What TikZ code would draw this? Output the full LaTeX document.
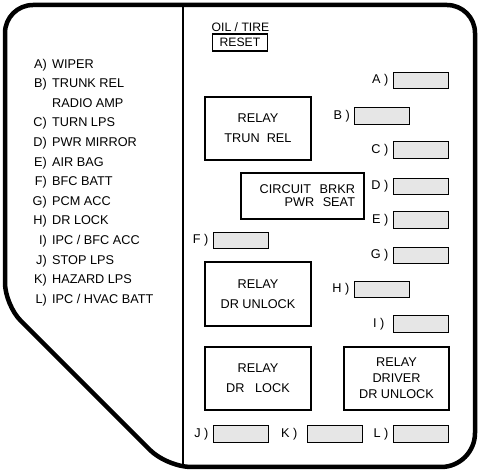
\documentclass[tikz,border=0pt]{standalone}
\usepackage{fontspec}
\setmainfont{Liberation Sans}
\usetikzlibrary{positioning}
\definecolor{fusefill}{RGB}{230,230,230}

\begin{document}
\begin{tikzpicture}[
  x=1pt, y=-1pt,
  font=\fontsize{12.7}{15}\selectfont,
  rim/.style={line width=4.5pt, line join=round},
  fuse/.style={draw, fill=fusefill, line width=0.8pt, minimum width=55pt,
               minimum height=16.5pt, inner sep=0pt},
  relay/.style={draw, line width=1.3pt, minimum width=106pt, minimum height=63pt,
                inner sep=0pt, align=center, font=\fontsize{12.7}{20}\selectfont},
  tag/.style={inner sep=0pt, text height=9pt, text depth=2.5pt},
  item/.style={tag, anchor=west},
  node distance=4pt,
]
\useasboundingbox (0,0) rectangle (480,473);

% housing outline and divider
\draw[rim] (5,200) [rounded corners=28pt] -- (5,5) -- (475,5) [rounded corners=34pt] -- (475,467)
  [rounded corners=24pt] -- (167,467) [rounded corners=22pt] -- (5,305) [sharp corners] -- cycle;
\coordinate (divtop) at (183,5);
\coordinate (divbot) at (183,467);
\draw[line width=1.2pt] (divtop) -- (divbot);

% legend
\node[item] (wiper) at (52,65) {WIPER};
\node[tag, left=5pt of wiper] (ta) {A)};
\node[item] (trunk) at (52,84.6) {TRUNK REL};
\node[tag, left=5pt of trunk] (tb) {B)};
\node[item] (radio) at (52,104.2) {RADIO AMP};
\node[item] (turn) at (52,123.7) {TURN LPS};
\node[tag, left=5pt of turn] (tc) {C)};
\node[item] (mirror) at (52,143.3) {PWR MIRROR};
\node[tag, left=5pt of mirror] (td) {D)};
\node[item] (airbag) at (52,162.9) {AIR BAG};
\node[tag, left=5pt of airbag] (te) {E)};
\node[item] (bfcbatt) at (52,182.5) {BFC BATT};
\node[tag, left=5pt of bfcbatt] (tf) {F)};
\node[item] (pcm) at (52,202.1) {PCM ACC};
\node[tag, left=5pt of pcm] (tg) {G)};
\node[item] (drlock) at (52,221.6) {DR LOCK};
\node[tag, left=5pt of drlock] (th) {H)};
\node[item] (bfcacc) at (52,241.2) {IPC / BFC ACC};
\node[tag, left=5pt of bfcacc] (ti) {I)};
\node[item] (stop) at (52,260.8) {STOP LPS};
\node[tag, left=5pt of stop] (tj) {J)};
\node[item] (hazard) at (52,280.4) {HAZARD LPS};
\node[tag, left=5pt of hazard] (tk) {K)};
\node[item] (hvac) at (52,300) {IPC / HVAC BATT};
\node[tag, left=5pt of hvac] (tl) {L)};

% reset button
\node[font=\fontsize{12.2}{14}\selectfont] (oil) at (240.5,27) {OIL / TIRE};
\node[draw, line width=1.6pt, minimum width=55pt, minimum height=17pt, inner sep=0pt,
      font=\fontsize{12.2}{14}\selectfont] (reset) at (240,42.5) {RESET};

% relays
\node[relay] (trunrel) at (258,128.5) {RELAY\\TRUN\ \ REL};
\node[relay, minimum width=123pt, minimum height=46pt, text width=105pt, align=right,
      font=\fontsize{12.7}{13}\selectfont] (brkr) at (302.5,196) {CIRCUIT\ \ BRKR\\PWR\ \ SEAT};
\node[relay, minimum height=64pt] (unlock) at (258,294) {RELAY\\DR UNLOCK};
\node[relay] (lock) at (258,378.5) {RELAY\\DR\ \ \ LOCK};
\node[relay, minimum width=105pt, font=\fontsize{12.7}{16}\selectfont] (driver) at (396.5,378.5) {RELAY\\DRIVER\\DR UNLOCK};

% fuses
\node[fuse] (fa) at (420.5,80.5) {};
\node[tag, left=of fa] (la) {A )};
\node[fuse] (fb) at (382,116) {};
\node[tag, left=of fb] (lb) {B )};
\node[fuse] (fc) at (420.5,150) {};
\node[tag, left=of fc] (lc) {C )};
\node[fuse] (fd) at (420.5,186.5) {};
\node[tag, left=of fd] (ld) {D )};
\node[fuse] (fe) at (420.5,220) {};
\node[tag, left=of fe] (le) {E )};
\node[fuse] (ff) at (240.5,240.5) {};
\node[tag, left=of ff] (lf) {F )};
\node[fuse] (fg) at (420.5,255.5) {};
\node[tag, left=of fg] (lg) {G )};
\node[fuse] (fh) at (381.5,289.5) {};
\node[tag, left=of fh] (lh) {H )};
\node[fuse] (fi) at (420.5,324) {};
\node[tag, left=8pt of fi] (li) {I )};
\node[fuse] (fj) at (240.5,434) {};
\node[tag, left=of fj] (lj) {J )};
\node[fuse] (fk) at (334.5,434) {};
\node[tag, left=9pt of fk] (lk) {K )};
\node[fuse] (fl) at (420.5,434) {};
\node[tag, left=of fl] (ll) {L )};
\end{tikzpicture}
\end{document}
